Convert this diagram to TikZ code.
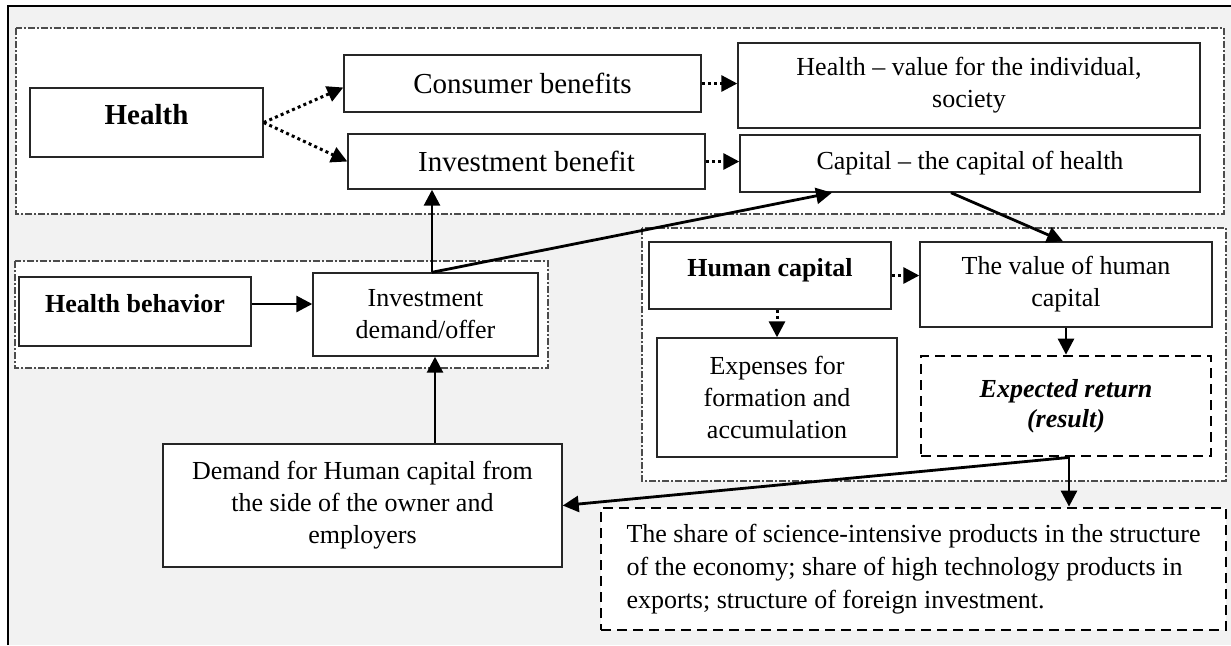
\documentclass[tikz,border=0pt]{standalone}
\usepackage{fontspec}
\setmainfont{Liberation Serif}
\usetikzlibrary{arrows.meta, calc}
\tikzset{
>={Triangle[length=8pt,width=8pt]}, % filled triangle heads
box/.style={draw=black!85, line width=0.7pt, fill=white, inner sep=2pt, align=center, font=\fontsize{13}{16}\selectfont}, % plain box
bigbox/.style={box, font=\fontsize{14.5}{17}\selectfont}, % box with larger text
dashbox/.style={box, draw=black, line width=1.4pt, dash pattern=on 5pt off 3pt}, % result boxes
group/.style={draw=black!70, line width=0.6pt, fill=white, dash pattern=on 3.5pt off 1.2pt on 0.6pt off 1.2pt}, % dash-dot frames
link/.style={->, line width=1.4pt}, % solid connector
dotlink/.style={->, line width=1.5pt, dash pattern=on 1.5pt off 1.6pt}, % dotted connector
lifted/.style={text height=9pt, text depth=8pt}, % text sits above the middle
}

\begin{document}
\begin{tikzpicture}[x=0.5pt, y=-0.5pt]
        \useasboundingbox (0,0) rectangle (1231,645);
        % background and frame
        \fill[black!5] (8,6) rectangle (1231,645);
        \draw[line width=1pt] (8,645) -- (8,6) -- (1231,6);
        % groups
        \draw[group] (16,28) rectangle (1224,214);
        \draw[group] (15,261) rectangle (548,368);
        \draw[group] (642,228) rectangle (1226,481);
        % boxes
        \node[bigbox, lifted, text height=10pt, font=\bfseries\fontsize{14.5}{17}\selectfont, minimum width=116.5pt, minimum height=34.5pt] (health) at (146.5,122.5) {Health};
        \node[bigbox, minimum width=178.5pt, minimum height=28.5pt] (consumer) at (522.5,83.5) {Consumer benefits};
        \node[bigbox, minimum width=178.5pt, minimum height=27.5pt] (investben) at (526.5,161.5) {Investment benefit};
        \node[box, minimum width=231pt, minimum height=42.5pt] (healthvalue) at (969,85.5) {Health -- value for the individual,\\society};
        \node[box, minimum width=230pt, minimum height=28.5pt] (capital) at (970,163.5) {Capital -- the capital of health};
        \node[box, lifted, font=\bfseries\fontsize{13}{16}\selectfont, minimum width=116pt, minimum height=34.5pt] (behavior) at (135,311.5) {Health behavior};
        \node[box, minimum width=112.5pt, minimum height=41.5pt] (invdemand) at (425.5,314.5) {Investment\\demand/offer};
        \node[box, lifted, font=\bfseries\fontsize{13}{16}\selectfont, minimum width=121pt, minimum height=33.5pt] (humancap) at (770,275.5) {Human capital};
        \node[box, minimum width=146pt, minimum height=42.5pt] (humanvalue) at (1066,284.5) {The value of human\\capital};
        \node[box, minimum width=120pt, minimum height=59.5pt] (expenses) at (777,397.5) {Expenses for\\formation and\\accumulation};
        \node[dashbox, font=\bfseries\itshape\fontsize{13}{15}\selectfont, minimum width=145pt, minimum height=50pt] (expected) at (1066,406) {Expected return\\(result)};
        \node[box, minimum width=199.5pt, minimum height=61.5pt] (demand) at (362.5,505.5) {Demand for Human capital from\\the side of the owner and\\employers};
        \node[dashbox, align=left, font=\fontsize{13}{16.5}\selectfont, minimum width=312.5pt, minimum height=61pt] (share) at (913.5,569) {The share of science-intensive products in the structure\\of the economy; share of high technology products in\\exports; structure of foreign investment.};
        % connectors
        \draw[dotlink] (health.east) -- ($(consumer.west)+(0,4)$);
        \draw[dotlink] (health.east) -- (investben.west);
        \draw[dotlink] (consumer.east) -- (consumer.east -| healthvalue.west);
        \draw[dotlink] (investben.east) -- (investben.east -| capital.west);
        \coordinate (j) at ($(invdemand.north)+(6.5,0)$);
        \draw[link] (j) -- (j |- investben.south);
        \draw[link] (j) -- ($(capital.south)+(-138,0)$);
        \draw[link] ($(capital.south)+(-19,0)$) -- ($(humanvalue.north)+(-3,0)$);
        \coordinate (b) at ($(behavior.east)+(0,-7.5)$);
        \draw[link] (b) -- (b -| invdemand.west);
        \coordinate (d) at ($(invdemand.south)+(9.5,0)$);
        \draw[link] (d |- demand.north) -- (d);
        \draw[dotlink] (humancap.east) -- (humancap.east -| humanvalue.west);
        \draw[dotlink] (expenses.north |- humancap.south) -- (expenses.north);
        \draw[link] (humanvalue.south) -- (expected.north);
        \coordinate (k) at ($(expected.south)+(3,0)$);
        \draw[link] (k) -- (k |- share.north);
        \draw[link] (k) -- (demand.east);
\end{tikzpicture}
\end{document}
